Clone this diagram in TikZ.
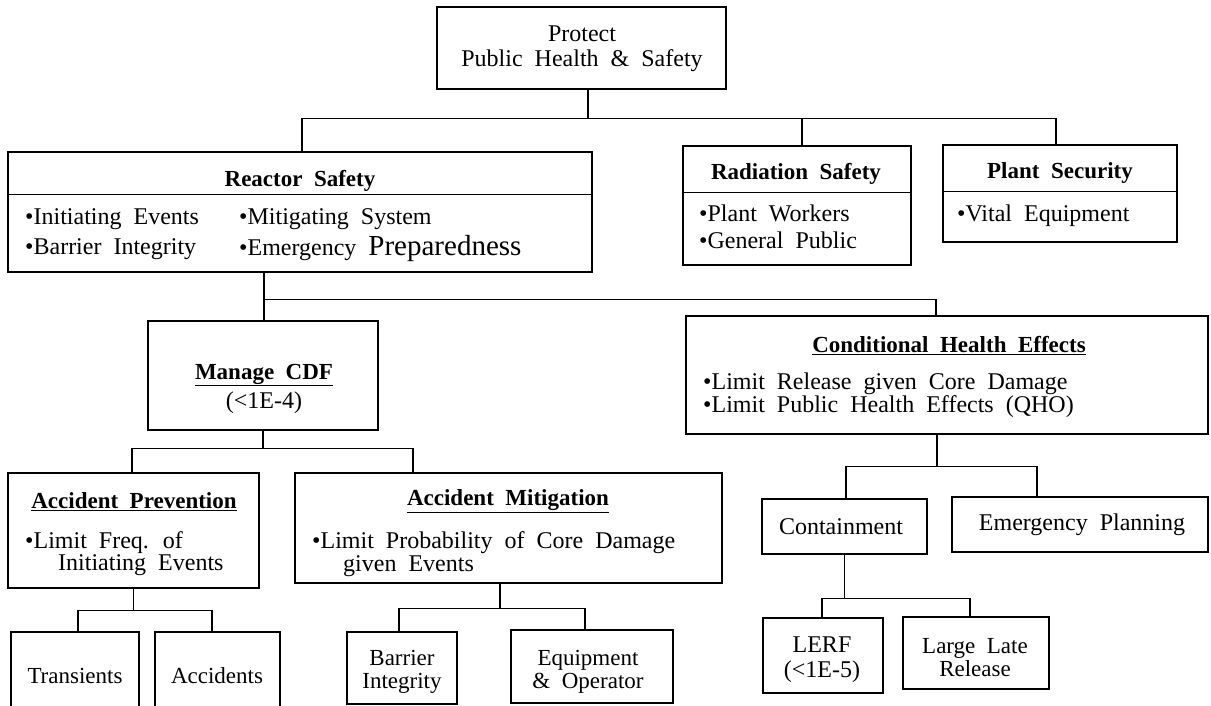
\documentclass[tikz,border=0pt]{standalone}
\usepackage{fontspec}
\setmainfont{Liberation Serif}[WordSpace=2]
\usepackage{tikz}
\usetikzlibrary{calc}

\begin{document}
\begin{tikzpicture}[x=1pt,y=-1pt,
    box/.style n args={2}{draw,line width=2.4pt,inner sep=0pt,minimum width=#1,minimum height=#2},
    link/.style={line width=1.1pt},
    txt/.style={inner sep=0pt,font=\fontsize{24}{25}\selectfont},
    hd/.style={inner sep=0pt,font=\fontsize{23}{25}\selectfont\bfseries},
    sm/.style={inner sep=0pt,align=center,font=\fontsize{23}{23}\selectfont}]
  \useasboundingbox (0,0) rectangle (1211,706);
  \clip (0,0) rectangle (1211,706);

  % boxes
  \node[box={289pt}{82pt}]  (prot) at (581.5,48) {};
  \node[box={584pt}{120pt}] (reac) at (300,212) {};
  \node[box={228pt}{119pt}] (radi) at (797,205.5) {};
  \node[box={234pt}{97pt}]  (plan) at (1060,193.5) {};
  \node[box={230pt}{109pt}] (mcdf) at (263,375.5) {};
  \node[box={522pt}{118pt}] (cond) at (947,375) {};
  \node[box={251pt}{115pt}] (prev) at (133.5,530.5) {};
  \node[box={427pt}{110pt}] (miti) at (508.5,528) {};
  \node[box={165pt}{55pt}]  (cont) at (844.5,526.5) {};
  \node[box={256pt}{55pt}]  (emer) at (1080,524.5) {};
  \node[box={128pt}{98pt}]  (tran) at (75,681) {};
  \node[box={125pt}{98pt}]  (acci) at (217.5,681) {};
  \node[box={110pt}{72pt}]  (barr) at (402,668) {};
  \node[box={162pt}{73pt}]  (equi) at (592,666.5) {};
  \node[box={120pt}{75pt}]  (lerf) at (823,655.5) {};
  \node[box={146pt}{72pt}]  (llr)  at (976,653) {};

  % title rules
  \draw[link] ([yshift=-44pt]reac.north west) -- ([yshift=-44pt]reac.north east);
  \draw[link] ([yshift=-48pt]radi.north west) -- ([yshift=-48pt]radi.north east);
  \draw[link] ([yshift=-48pt]plan.north west) -- ([yshift=-48pt]plan.north east);

  % texts
  \node[txt,align=center] (prot-t) at (582,49) {Protect\\Public Health \& Safety};

  \node[hd] (reac-t) at (300,181) {Reactor Safety};
  \node[txt,anchor=west] (reac-a) at (25,219) {\textbullet Initiating Events};
  \node[txt,anchor=west] (reac-b) at (25,249) {\textbullet Barrier Integrity};
  \node[txt,anchor=west] (reac-c) at (239,219) {\textbullet Mitigating System};
  \node[txt,anchor=west] (reac-d) at (239,249) {\textbullet Emergency {\fontsize{29}{30}\selectfont Preparedness}};

  \node[hd] (radi-t) at (796,174) {Radiation Safety};
  \node[txt,anchor=west] (radi-a) at (699,213) {\textbullet Plant Workers};
  \node[txt,anchor=west] (radi-b) at (699,240) {\textbullet General Public};

  \node[hd] (plan-t) at (1060,173) {Plant Security};
  \node[txt,anchor=west] (plan-a) at (957,216) {\textbullet Vital Equipment};

  \node[hd] (mcdf-t) at (264,375) {\underline{Manage CDF}};
  \node[txt] (mcdf-a) at (264,403) {(<1E-4)};

  \node[hd] (cond-t) at (949,346) {\underline{Conditional Health Effects}};
  \node[txt,anchor=west] (cond-a) at (703,384) {\textbullet Limit Release given Core Damage};
  \node[txt,anchor=west] (cond-b) at (703,407) {\textbullet Limit Public Health Effects (QHO)};

  \node[hd] (prev-t) at (134,502) {\underline{Accident Prevention}};
  \node[txt,anchor=west] (prev-a) at (25,543) {\textbullet Limit Freq. of};
  \node[txt,anchor=west] (prev-b) at (58,565) {Initiating Events};

  \node[hd] (miti-t) at (508,501) {\underline{Accident Mitigation}};
  \node[txt,anchor=west] (miti-a) at (312,543) {\textbullet Limit Probability of Core Damage};
  \node[txt,anchor=west] (miti-b) at (343,566) {given Events};

  \node[txt] (cont-t) at (841,527) {Containment};
  \node[txt] (emer-t) at (1082,525) {Emergency Planning};
  \node[sm] (tran-t) at (75,676) {Transients};
  \node[sm] (acci-t) at (217,676) {Accidents};
  \node[sm] (barr-t) at (402,672) {Barrier\\Integrity};
  \node[sm] (equi-t) at (588,672) {Equipment\\\& Operator};
  \node[txt,align=center] (lerf-t) at (822,660) {LERF\\(<1E-5)};
  \node[sm] (llr-t) at (975,658) {Large Late\\Release};

  % connectors
  \foreach \kid/\dx in {reac/2,radi/5,plan/-4}
    \draw[link] ([xshift=6.5pt]prot.south) -- ++(0,28) -| ([xshift=\dx pt]\kid.north);
  \foreach \kid/\dx in {mcdf/1,cond/-11}
    \draw[link] ([xshift=-36pt]reac.south) -- ++(0,26) -| ([xshift=\dx pt]\kid.north);
  \foreach \kid/\dx in {prev/-1.5,miti/-95.5}
    \draw[link] (mcdf.south) -- ++(0,17) -| ([xshift=\dx pt]\kid.north);
  \foreach \kid/\dx in {tran/3,acci/-5.5}
    \draw[link] (prev.south) -- ++(0,21) -| ([xshift=\dx pt]\kid.north);
  \foreach \kid/\dx in {barr/-3,equi/-7}
    \draw[link] ([xshift=-8.5pt]miti.south) -- ++(0,24) -| ([xshift=\dx pt]\kid.north);
  \foreach \kid/\dx in {cont/1.5,emer/-43}
    \draw[link] ([xshift=-10pt]cond.south) -- ++(0,31) -| ([xshift=\dx pt]\kid.north);
  \foreach \kid/\dx in {lerf/-1,llr/-6}
    \draw[link] (cont.south) -- ++(0,43) -| ([xshift=\dx pt]\kid.north);
\end{tikzpicture}
\end{document}
